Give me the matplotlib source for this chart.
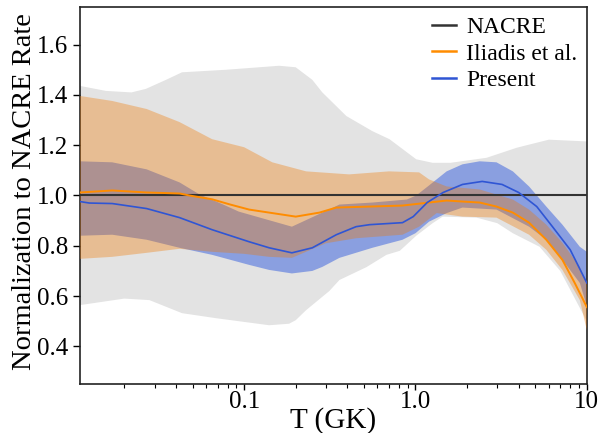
import matplotlib
matplotlib.use("Agg")
import matplotlib.pyplot as plt
import numpy as np

plt.rcParams['font.family'] = ['Liberation Serif', 'DejaVu Serif']

# NACRE uncertainty band (ratio to NACRE recommended rate)
nacre_top_T = [0.011, 0.0156, 0.022, 0.0267, 0.035, 0.0434, 0.078, 0.134, 0.16, 0.2, 0.25,
               0.286, 0.395, 0.56, 0.705, 1.01, 1.26, 1.6, 2.6, 3.9, 6.0, 10.0]
nacre_top = [1.436, 1.416, 1.41, 1.424, 1.46, 1.49, 1.50, 1.512, 1.516, 1.51, 1.46,
             1.41, 1.316, 1.256, 1.224, 1.144, 1.13, 1.13, 1.15, 1.19, 1.222, 1.215]
nacre_bot_T = [0.011, 0.02, 0.028, 0.0434, 0.0686, 0.14, 0.183, 0.2, 0.23, 0.314, 0.36,
               0.517, 0.677, 0.81, 1.01, 1.26, 1.44, 2.27, 3.0, 3.7, 5.3, 7.0, 10.0]
nacre_bot = [0.564, 0.59, 0.584, 0.532, 0.512, 0.484, 0.49, 0.504, 0.544, 0.62, 0.664,
             0.715, 0.764, 0.78, 0.84, 0.89, 0.916, 0.912, 0.89, 0.85, 0.796, 0.70, 0.50]
nacre_ratio = 1.0

# Iliadis et al.
ili_T = [0.011, 0.017, 0.027, 0.042, 0.048, 0.065, 0.082, 0.107, 0.14, 0.2, 0.275, 0.345,
         0.54, 0.84, 1.2, 1.52, 1.88, 2.37, 2.97, 3.7, 4.6, 5.8, 7.2, 8.5, 10.0]
ili_mid = [1.012, 1.02, 1.012, 1.008, 1.0, 0.985, 0.965, 0.944, 0.932, 0.916, 0.932, 0.952,
           0.956, 0.96, 0.972, 0.98, 0.976, 0.972, 0.956, 0.932, 0.892, 0.824, 0.744, 0.652, 0.556]
ili_top_T = [0.011, 0.017, 0.027, 0.042, 0.065, 0.1, 0.146, 0.23, 0.41, 0.7, 1.05, 1.2,
             1.52, 2.37, 3.7, 4.6, 5.8, 7.2, 9.1, 10.0]
ili_top = [1.396, 1.376, 1.344, 1.292, 1.224, 1.192, 1.132, 1.096, 1.084, 1.096, 1.092, 1.064,
           1.036, 1.024, 0.984, 0.944, 0.884, 0.812, 0.716, 0.652]
ili_bot_T = [0.011, 0.017, 0.027, 0.042, 0.065, 0.1, 0.14, 0.19, 0.3, 0.45, 0.84, 1.05,
             1.33, 1.88, 2.97, 4.6, 5.8, 7.2, 9.1, 10.0]
ili_bot = [0.748, 0.756, 0.772, 0.788, 0.776, 0.768, 0.756, 0.752, 0.81, 0.83, 0.844, 0.876,
           0.93, 0.916, 0.912, 0.844, 0.784, 0.704, 0.584, 0.464]

# Present work
pre_T = [0.011, 0.0125, 0.017, 0.027, 0.042, 0.065, 0.107, 0.14, 0.19, 0.25, 0.345, 0.45,
         0.54, 0.84, 0.97, 1.17, 1.45, 1.88, 2.45, 3.2, 4.0, 5.1, 6.3, 8.0, 10.0]
pre_mid = [0.976, 0.97, 0.968, 0.948, 0.912, 0.864, 0.816, 0.792, 0.772, 0.792, 0.844, 0.876,
           0.884, 0.892, 0.916, 0.972, 1.012, 1.044, 1.056, 1.044, 1.012, 0.956, 0.876, 0.784, 0.652]
pre_top_T = [0.011, 0.017, 0.027, 0.042, 0.055, 0.075, 0.093, 0.19, 0.286, 0.36, 0.56, 0.89,
             1.01, 1.2, 1.52, 1.88, 2.37, 2.97, 3.7, 4.6, 5.8, 7.2, 9.1, 10.0]
pre_top = [1.136, 1.132, 1.104, 1.052, 1.004, 0.965, 0.936, 0.876, 0.932, 0.964, 0.972, 0.984,
           1.0, 1.04, 1.096, 1.124, 1.136, 1.132, 1.096, 1.036, 0.956, 0.884, 0.796, 0.776]
pre_bot_T = [0.011, 0.017, 0.027, 0.042, 0.065, 0.107, 0.14, 0.19, 0.25, 0.286, 0.36, 0.56,
             0.84, 1.0, 1.2, 1.52, 1.88, 2.97, 4.6, 5.8, 7.2, 9.1, 10.0]
pre_bot = [0.84, 0.844, 0.824, 0.792, 0.764, 0.724, 0.704, 0.69, 0.70, 0.716, 0.752, 0.792,
           0.824, 0.85, 0.896, 0.93, 0.952, 0.944, 0.876, 0.824, 0.744, 0.652, 0.56]


def band(ax, t_top, top, t_bot, bot, **kw):
    # closed polygon: upper edge left->right, lower edge right->left
    xs = np.concatenate([t_top, t_bot[::-1]])
    ys = np.concatenate([top, bot[::-1]])
    ax.fill(xs, ys, linewidth=0, **kw)


fig = plt.figure(figsize=(6.05, 4.33), dpi=100)
ax = fig.add_axes([0.132, 0.113, 0.838, 0.871])

band(ax, nacre_top_T, nacre_top, nacre_bot_T, nacre_bot, color='#e3e3e3', zorder=1)
band(ax, pre_top_T, pre_top, pre_bot_T, pre_bot, color='#4f72de', alpha=0.6, zorder=2)
band(ax, ili_top_T, ili_top, ili_bot_T, ili_bot, color='#f07800', alpha=0.35, zorder=3)

ax.axhline(nacre_ratio, color='#333333', lw=1.5, zorder=4, label='NACRE')
ax.plot(ili_T, ili_mid, color='#ff8c00', lw=1.4, zorder=5, label='Iliadis et al.')
ax.plot(pre_T, pre_mid, color='#2f55d4', lw=1.2, zorder=5, label='Present')

ax.set_xscale('log')
ax.set_xlim(0.011, 10)
ax.set_ylim(0.25, 1.75)
ax.set_xticks([0.1, 1.0, 10])
ax.set_xticklabels(['0.1', '1.0', '10'])
ax.set_yticks([0.4, 0.6, 0.8, 1.0, 1.2, 1.4, 1.6])
ax.set_yticklabels(['0.4', '0.6', '0.8', '1.0', '1.2', '1.4', '1.6'])
ax.tick_params(axis='both', which='major', labelsize=18, length=5, width=1)
ax.tick_params(axis='x', which='major', length=4, pad=1)
ax.tick_params(axis='x', which='minor', length=3, width=0.8)

ax.set_xlabel('T (GK)', fontsize=21)
ax.xaxis.set_label_coords(0.5, -0.062)
ax.set_ylabel('Normalization to NACRE Rate', fontsize=20.5)
ax.yaxis.set_label_coords(-0.085, 0.51)

for s in ax.spines.values():
    s.set_linewidth(1.2)
    s.set_color('#222222')

leg = ax.legend(loc='upper right', frameon=False, fontsize=17, handlelength=1.0,
                handletextpad=0.45, labelspacing=0.22, borderaxespad=0.2, borderpad=0.2)
for h in leg.get_lines():
    h.set_linewidth(1.8)

fig.savefig('out.png', dpi=100)
